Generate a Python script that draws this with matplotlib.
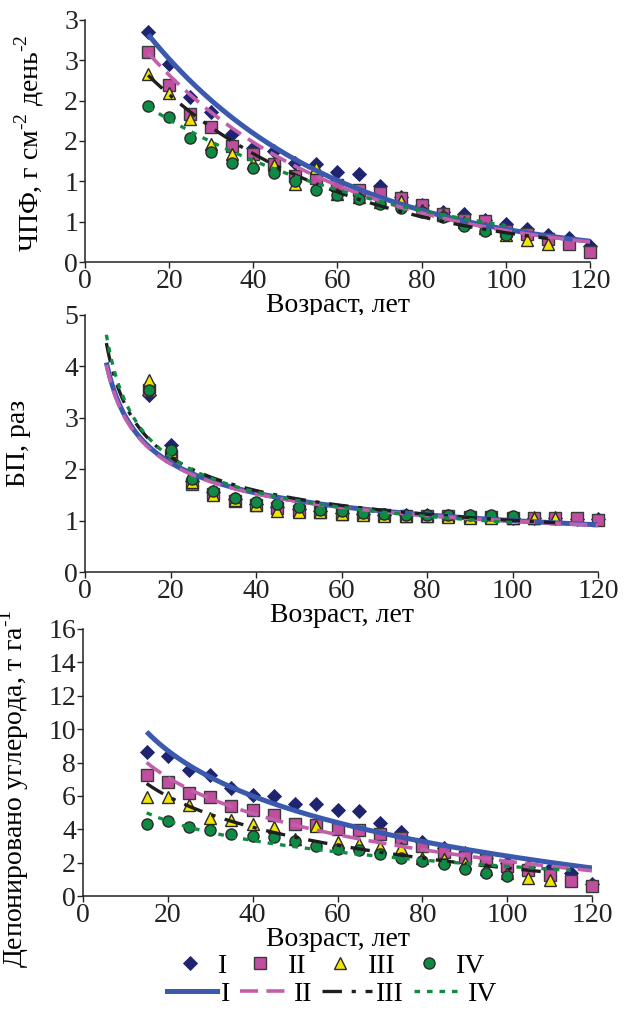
import matplotlib.pyplot as plt
import numpy as np
from matplotlib.lines import Line2D

plt.rcParams['font.family'] = ['Liberation Serif', 'DejaVu Serif']
plt.rcParams['mathtext.fontset'] = 'custom'
plt.rcParams['mathtext.rm'] = 'Liberation Serif'
plt.rcParams['lines.scale_dashes'] = False

# ---- data ----
ages = [15, 20, 25, 30, 35, 40, 45, 50, 55, 60, 65, 70, 75, 80, 85, 90, 95, 100, 105, 110, 115, 120]
ages_iii = ages[:20]   # 15..110
ages_iv = ages[:18]    # 15..100

# top: ЧПФ
npp_i = [2.85, 2.46, 2.04, 1.86, 1.59, 1.41, 1.37, 1.23, 1.21, 1.11, 1.09, 0.94, 0.81, 0.71, 0.62, 0.60,
         0.52, 0.47, 0.41, 0.33, 0.30, 0.20]
npp_ii = [2.60, 2.20, 1.83, 1.67, 1.44, 1.34, 1.22, 1.06, 1.04, 0.96, 0.89, 0.86, 0.79, 0.71, 0.59, 0.52,
          0.51, 0.39, 0.35, 0.29, 0.22, 0.13]
npp_iii = [2.33, 2.10, 1.77, 1.46, 1.34, 1.23, 1.20, 0.97, 1.17, 0.84, 0.80, 0.74, 0.76, 0.65, 0.58, 0.50,
           0.42, 0.33, 0.27, 0.22]
npp_iv = [1.94, 1.80, 1.54, 1.36, 1.23, 1.17, 1.10, 1.00, 0.89, 0.83, 0.78, 0.72, 0.67, 0.62, 0.56, 0.45,
          0.39, 0.33]

# middle: БП
bp_i = [3.45, 2.48, 1.78, 1.55, 1.42, 1.33, 1.27, 1.22, 1.18, 1.15, 1.13, 1.11, 1.10, 1.10, 1.09, 1.08,
        1.07, 1.06, 1.05, 1.05, 1.04, 1.03]
bp_ii = [3.55, 2.25, 1.72, 1.52, 1.38, 1.30, 1.24, 1.19, 1.16, 1.13, 1.12, 1.10, 1.09, 1.09, 1.08, 1.07,
         1.07, 1.06, 1.05, 1.05, 1.05, 1.02]
bp_iii = [3.74, 2.35, 1.75, 1.50, 1.40, 1.31, 1.19, 1.17, 1.16, 1.13, 1.10, 1.09, 1.08, 1.08, 1.07, 1.06,
          1.06, 1.05, 1.05, 1.05]
bp_iv = [3.55, 2.38, 1.81, 1.58, 1.44, 1.37, 1.32, 1.26, 1.21, 1.18, 1.15, 1.12, 1.11, 1.11, 1.11, 1.10,
         1.10, 1.08]

# bottom: депонировано углерода
c_i = [8.60, 8.38, 7.54, 7.28, 6.50, 6.04, 5.98, 5.54, 5.50, 5.16, 5.08, 4.40, 3.84, 3.25, 2.85, 2.60,
       2.25, 2.00, 1.75, 1.60, 1.35, 0.74]
c_ii = [7.24, 6.84, 6.18, 5.94, 5.38, 5.18, 4.84, 4.30, 4.24, 4.00, 3.94, 3.70, 3.50, 2.98, 2.64, 2.34,
        2.18, 1.78, 1.54, 1.24, 0.90, 0.62]
c_iii = [5.94, 5.94, 5.44, 4.70, 4.54, 4.34, 4.14, 3.44, 4.18, 3.24, 3.14, 2.94, 2.90, 2.30, 2.20, 2.00,
         1.62, 1.40, 1.08, 0.94]
c_iv = [4.30, 4.48, 4.14, 3.94, 3.70, 3.58, 3.54, 3.30, 2.98, 2.80, 2.74, 2.50, 2.28, 2.10, 1.90, 1.64,
        1.38, 1.18]

# trend lines (Excel style), coefficients and x-span
top_exp_a = [3.97, 3.62, 3.21, 2.48]          # y = a*exp(b*x)
top_exp_b = [-0.0228, -0.0223, -0.0218, -0.0170]
top_span = [(15, 120), (15, 120), (15, 110), (15, 100)]
mid_pow_a = [8.67, 8.55, 9.91, 10.71]         # y = a*x^b
mid_pow_b = [-0.469, -0.468, -0.497, -0.523]
mid_span = [(5, 120), (5, 120), (5, 110), (5, 100)]
bot_log_a = [20.47, 16.45, 13.97, 9.56]       # y = a + b*ln(x)
bot_log_b = [-3.925, -3.12, -2.67, -1.69]
bot_span = [(15, 120), (15, 120), (15, 110), (15, 115)]

labels = ['I', 'II', 'III', 'IV']
top_yticks = [0, 0.5, 1, 1.5, 2, 2.5, 3]
top_yticklabels = ['0', '1', '1', '2', '2', '3', '3']

# ---- styles ----
mk_style = [
    dict(marker='D', color='#1f2470', markersize=7.5, markeredgecolor='#1f2470', markeredgewidth=0.6),
    dict(marker='s', color='#c04fa0', markersize=8, markeredgecolor='#3a3a3a', markeredgewidth=1.0),
    dict(marker='^', color='#f2e600', markersize=8.5, markeredgecolor='#2a2a2a', markeredgewidth=1.0),
    dict(marker='o', color='#0f8a45', markersize=8, markeredgecolor='#2a2a2a', markeredgewidth=1.0),
]
ln_style = [
    dict(color='#3b59ad', lw=3.6, ls='-'),
    dict(color='#c25fab', lw=2.6, dashes=(13, 6)),
    dict(color='#1e1e1e', lw=2.4, dashes=(14, 7, 3, 7)),
    dict(color='#138a44', lw=2.4, dashes=(4, 5)),
]

FS = 20
HY = '\u2010'   # short hyphen for the unit exponents

fig = plt.figure(figsize=(6.24, 10.28), dpi=100)
ax1 = fig.add_axes([85/624, 1-262/1028, 505/624, 242/1028])
ax2 = fig.add_axes([85/624, 1-572/1028, 513/624, 257/1028])
ax3 = fig.add_axes([83/624, 1-896/1028, 509/624, 267/1028])


def style_axis(ax):
    for s in ['top', 'right']:
        ax.spines[s].set_visible(False)
    for s in ['left', 'bottom']:
        ax.spines[s].set_linewidth(1.1)
        ax.spines[s].set_color('#222222')
    ax.tick_params(direction='out', length=4, width=1.0, labelsize=FS, pad=1, colors='#222222')
    ax.set_xlim(0, 120)
    ax.set_xticks([0, 20, 40, 60, 80, 100, 120])
    ax.set_xlabel('Возраст, лет', fontsize=FS, labelpad=-1)


def draw(ax, xs, ys, curves):
    for k in range(4):
        ax.plot(xs[k], ys[k], ls='none', zorder=3, clip_on=False, **mk_style[k])
    for k in range(4):
        cx, cy = curves[k]
        ax.plot(cx, cy, zorder=4, solid_capstyle='butt', dash_capstyle='butt', **ln_style[k])


xs = [ages, ages, ages_iii, ages_iv]

# top
curves = []
for k in range(4):
    cx = np.linspace(top_span[k][0], top_span[k][1], 200)
    curves.append((cx, top_exp_a[k] * np.exp(top_exp_b[k] * cx)))
draw(ax1, xs, [npp_i, npp_ii, npp_iii, npp_iv], curves)
style_axis(ax1)
ax1.set_ylim(0, 3)
ax1.set_yticks(top_yticks)
ax1.set_yticklabels(top_yticklabels)
ax1.set_ylabel('ЧПФ, г см$^{\\mathregular{' + HY + '2}}$ день$^{\\mathregular{' + HY + '2}}$', fontsize=FS)
ax1.yaxis.set_label_coords(-0.078, 0.49)

# middle
curves = []
for k in range(4):
    cx = np.linspace(mid_span[k][0], mid_span[k][1], 300)
    curves.append((cx, mid_pow_a[k] * cx ** mid_pow_b[k]))
draw(ax2, xs, [bp_i, bp_ii, bp_iii, bp_iv], curves)
style_axis(ax2)
ax2.set_ylim(0, 5)
ax2.set_yticks([0, 1, 2, 3, 4, 5])
ax2.set_ylabel('БП, раз', fontsize=FS)
ax2.yaxis.set_label_coords(-0.105, 0.5)

# bottom
curves = []
for k in range(4):
    cx = np.linspace(bot_span[k][0], bot_span[k][1], 200)
    curves.append((cx, bot_log_a[k] + bot_log_b[k] * np.log(cx)))
draw(ax3, xs, [c_i, c_ii, c_iii, c_iv], curves)
style_axis(ax3)
ax3.set_ylim(0, 16)
ax3.set_yticks([0, 2, 4, 6, 8, 10, 12, 14, 16])
ax3.set_ylabel('Депонировано углерода, т га$^{\\mathregular{' + HY + '1}}$', fontsize=FS)
ax3.yaxis.set_label_coords(-0.102, 0.40)

# legends
mk_handles = [Line2D([], [], ls='none', **mk_style[k]) for k in range(4)]
ln_handles = [Line2D([], [], **ln_style[k]) for k in range(4)]
fig.legend(mk_handles, labels, loc='center', bbox_to_anchor=(0.53, 1-966/1028), ncol=4,
           frameon=False, fontsize=FS, handlelength=1.0, handletextpad=0.5, columnspacing=0.7,
           borderpad=0, borderaxespad=0)
fig.legend(ln_handles, labels, loc='center', bbox_to_anchor=(0.532, 1-994/1028), ncol=4,
           frameon=False, fontsize=FS, handlelength=1.8, handletextpad=0.15, columnspacing=0.35,
           borderpad=0, borderaxespad=0)

fig.savefig('out.png', dpi=100)
